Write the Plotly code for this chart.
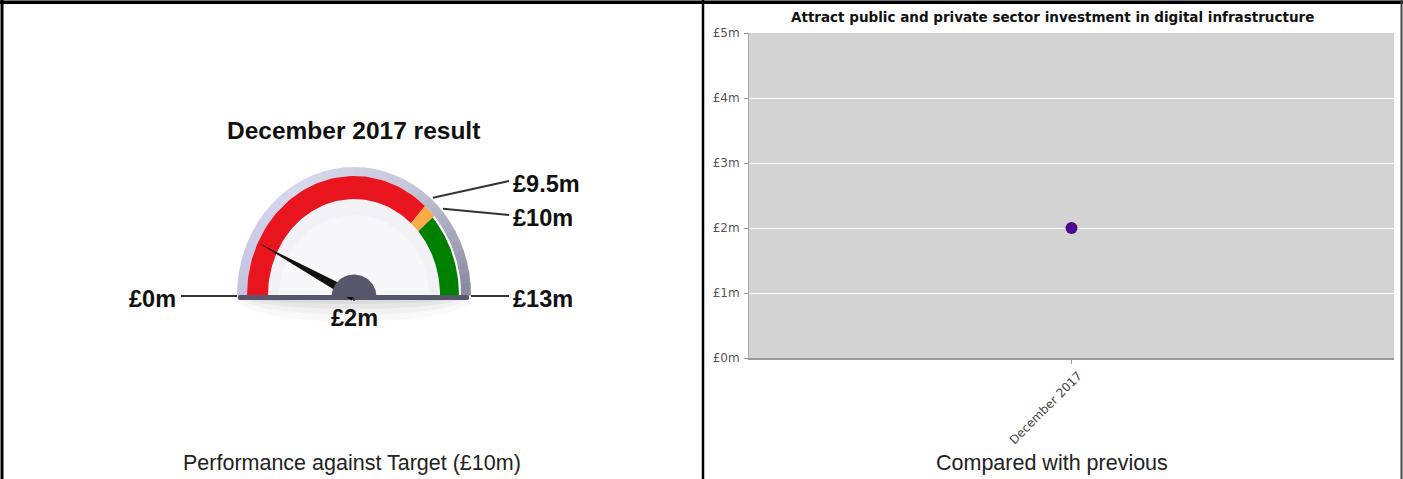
import numpy as np
import plotly.graph_objects as go

# ---- gauge data ----
gauge_title = "December 2017 result"
gauge_min, gauge_max = 0, 13
band_edges = [0, 9.5, 10, 13]
band_colors = ["#e8141e", "#f7aa45", "#008000"]
result_value = 2
result_label = "£2m"
scale_values = [0, 9.5, 10, 13]
scale_labels = ["£0m", "£9.5m", "£10m", "£13m"]
gauge_caption = "Performance against Target (£10m)"

# ---- trend chart data ----
chart_title = "Attract public and private sector investment in digital infrastructure"
periods = ["December 2017"]
period_values = [2]
y_ticks = [0, 1, 2, 3, 4, 5]
y_tick_labels = ["£0m", "£1m", "£2m", "£3m", "£4m", "£5m"]
chart_caption = "Compared with previous"

W, H = 1403, 479
CX, CY = 354, 295          # gauge pivot (pixels from top-left)


def px_x(x):
    return x / W


def px_y(y):
    return 1 - y / H


def angle(v):
    return np.pi * (1 - (v - gauge_min) / (gauge_max - gauge_min))


def arc(rx, ry, a0, a1, n=60):
    t = np.linspace(a0, a1, n)
    return rx * np.cos(t), ry * np.sin(t)


def ring(rx_o, ry_o, rx_i, ry_i, a0, a1, n=60):
    xo, yo = arc(rx_o, ry_o, a0, a1, n)
    xi, yi = arc(rx_i, ry_i, a1, a0, n)
    return np.r_[xo, xi, xo[0]], np.r_[yo, yi, yo[0]]


def poly(fig, x, y, color, opacity=1.0):
    fig.add_trace(go.Scatter(x=x, y=y, mode="lines", fill="toself",
                             fillcolor=color, line=dict(width=0, color=color),
                             opacity=opacity, hoverinfo="skip",
                             showlegend=False, xaxis="x2", yaxis="y2"))


def mix(c1, c2, t):
    a = np.array([int(c1[i:i + 2], 16) for i in (1, 3, 5)])
    b = np.array([int(c2[i:i + 2], 16) for i in (1, 3, 5)])
    c = (a + (b - a) * t).round().astype(int)
    return "#%02x%02x%02x" % tuple(c)


fig = go.Figure()

# soft shadow beneath the gauge base (stacked translucent half-ellipses)
for rx, ry, op in [(118, 24, 0.025), (112, 17, 0.03), (106, 11, 0.04), (100, 6, 0.05)]:
    sx_, sy_ = arc(rx, ry, np.pi, 2 * np.pi, 60)
    poly(fig, np.r_[sx_, sx_[0]], np.r_[sy_, sy_[0]] - 3, "#000000", op)

# gauge face
fx, fy = arc(116, 128, 0, np.pi, 120)
poly(fig, np.r_[fx, fx[0]], np.r_[fy, fy[0]], "#f2f2f6")
fx, fy = arc(75, 80, 0, np.pi, 80)
poly(fig, np.r_[fx, fx[0]], np.r_[fy, fy[0]], "#f7f7fa")

# bezel ring shaded from the lit left side to the darker right side
bezel_stops = ["#c4c4e2", "#d8d8ee", "#c8c8dc", "#8a8aa2"]
n_seg = 36
for k in range(n_seg):
    a1 = np.pi * (1 - k / n_seg)
    a0 = np.pi * (1 - (k + 1) / n_seg)
    t = k / (n_seg - 1) * (len(bezel_stops) - 1)
    i = min(int(t), len(bezel_stops) - 2)
    col = mix(bezel_stops[i], bezel_stops[i + 1], t - i)
    bx, by = ring(117, 128, 107, 119, a0 - 0.004, a1 + 0.004, 8)
    poly(fig, bx, by, col)

# thin white rim inside the bezel on the right-hand side
wx, wy = ring(107, 119, 105, 117, 0, angle(band_edges[2]), 30)
poly(fig, wx, wy, "#ffffff")

# coloured bands
for v0, v1, col in zip(band_edges[:-1], band_edges[1:], band_colors):
    rx_o, ry_o = (105, 117) if v1 == gauge_max else (107, 119)
    bx, by = ring(rx_o, ry_o, 86, 96, angle(v1), angle(v0), 60)
    poly(fig, bx, by, col)

# base bar
poly(fig, [-115, 114, 115, 115, 114, -115, -116, -116, -115],
     [0, 0, -1, -4, -5, -5, -4, -1, 0], "#56576b")

# needle
a = angle(result_value)
tip = np.array([108 * np.cos(a), 112 * np.sin(a)])
perp = np.array([-np.sin(a), np.cos(a)]) * 5
base = np.array([0.0, -1.0])
nx = [tip[0], base[0] + perp[0], base[0] - perp[0], tip[0]]
ny = [tip[1], base[1] + perp[1], base[1] - perp[1], tip[1]]
poly(fig, nx, ny, "#111111")

# hub
hx, hy = arc(22.5, 22.5, 0, np.pi, 60)
poly(fig, np.r_[hx, hx[0]], np.r_[hy, hy[0]] - 2, "#56576b")
fig.add_trace(go.Scatter(x=[0, 0], y=[-3, -6], mode="lines",
                         line=dict(color="#333", width=1.5), hoverinfo="skip",
                         showlegend=False, xaxis="x2", yaxis="y2"))

# scale labels with leader lines
label_font = dict(family="Liberation Sans, Arial", size=23.5,
                  color="#111111", weight="bold")
label_pos = {0: (-173, -1), 9.5: (155, 114), 10: (155, 80), 13: (155, -1)}
for v, txt in zip(scale_values, scale_labels):
    a = angle(v)
    if v in (gauge_min, gauge_max):
        sx = np.sign(np.cos(a)) * 117
        sy = -1
    else:
        sx, sy = 119 * np.cos(a), 130 * np.sin(a)
    lx, ly = label_pos[v]
    fig.add_trace(go.Scatter(x=[sx, lx], y=[sy, ly], mode="lines",
                             line=dict(color="#333333", width=2),
                             hoverinfo="skip", showlegend=False,
                             xaxis="x2", yaxis="y2"))
    left = lx > 0
    fig.add_annotation(x=lx + (2 if left else -3), y=ly - 3, xref="x2", yref="y2",
                       text=txt, showarrow=False,
                       xanchor="left" if left else "right", yanchor="middle",
                       font=label_font)

fig.add_annotation(x=0, y=-23, xref="x2", yref="y2", text=result_label,
                   showarrow=False, xanchor="center", yanchor="middle",
                   font=label_font)
fig.add_annotation(x=-1, y=CY - 130, xref="x2", yref="y2", text=gauge_title,
                   showarrow=False, xanchor="center", yanchor="middle",
                   font=dict(family="Liberation Sans, Arial", size=24.5,
                             color="#111111", weight="bold"))

# ---- trend chart ----
fig.add_shape(type="rect", xref="x domain", yref="y domain", x0=0, x1=1,
              y0=0, y1=1, fillcolor="#d3d3d3", line=dict(width=0),
              layer="below")
fig.add_trace(go.Scatter(x=periods, y=period_values, mode="markers",
                         marker=dict(size=12, color="#4b0a8c"),
                         hoverinfo="skip", showlegend=False))

fig.add_annotation(x=px_x(1052), y=px_y(17), xref="paper", yref="paper",
                   text=chart_title, showarrow=False, xanchor="center",
                   yanchor="middle",
                   font=dict(family="DejaVu Sans", size=13.5, color="#111111",
                             weight="bold"))

# captions
for cx, txt in [(352, gauge_caption), (1052, chart_caption)]:
    fig.add_annotation(x=px_x(cx), y=px_y(463), xref="paper", yref="paper",
                       text=txt, showarrow=False, xanchor="center",
                       yanchor="middle",
                       font=dict(family="Liberation Sans, Arial", size=21.5,
                                 color="#222222"))

# panel borders
border = dict(xref="paper", yref="paper", type="line")
fig.add_shape(**border, x0=0, x1=1, y0=px_y(0.5), y1=px_y(0.5),
              line=dict(color="#777777", width=1))
fig.add_shape(**border, x0=0, x1=1, y0=px_y(2.5), y1=px_y(2.5),
              line=dict(color="#000000", width=3))
fig.add_shape(**border, x0=px_x(2), x1=px_x(2), y0=0, y1=1,
              line=dict(color="#000000", width=3))
fig.add_shape(**border, x0=px_x(703), x1=px_x(703), y0=0, y1=1,
              line=dict(color="#000000", width=2.5))
fig.add_shape(**border, x0=px_x(1401.5), x1=px_x(1401.5), y0=0, y1=1,
              line=dict(color="#444444", width=2))

fig.update_layout(
    template="none",
    width=W, height=H,
    autosize=False,
    margin=dict(l=0, r=0, t=0, b=0, pad=0, autoexpand=False),
    paper_bgcolor="white",
    plot_bgcolor="rgba(0,0,0,0)",
    showlegend=False,
    xaxis=dict(domain=[px_x(749), px_x(1394)], type="category",
               range=[-0.5, 0.5], showgrid=False, zeroline=False,
               showline=True, linecolor="#999999", linewidth=2,
               ticks="outside", ticklen=4, tickcolor="#999999",
               tickangle=-45, automargin=False, ticklabelshift=7,
               tickfont=dict(family="DejaVu Sans", size=12, color="#444444"),
               fixedrange=True, anchor="y"),
    yaxis=dict(domain=[px_y(358), px_y(33)], range=[0, 5],
               tickvals=y_ticks, ticktext=y_tick_labels,
               showgrid=True, gridcolor="white", gridwidth=1,
               zeroline=False, showline=True, linecolor="#aaaaaa",
               linewidth=1, ticks="outside", ticklen=4, tickcolor="#999999",
               automargin=False, ticklabelstandoff=2,
               tickfont=dict(family="DejaVu Sans", size=12, color="#555555"),
               fixedrange=True, anchor="x"),
    xaxis2=dict(domain=[0, px_x(702)], range=[-CX, 702 - CX], visible=False,
                automargin=False, fixedrange=True, anchor="y2"),
    yaxis2=dict(domain=[0, 1], range=[CY - H, CY], visible=False,
                automargin=False, fixedrange=True, anchor="x2"),
)

fig.write_html("out.html", config={"displayModeBar": False, "staticPlot": True})
